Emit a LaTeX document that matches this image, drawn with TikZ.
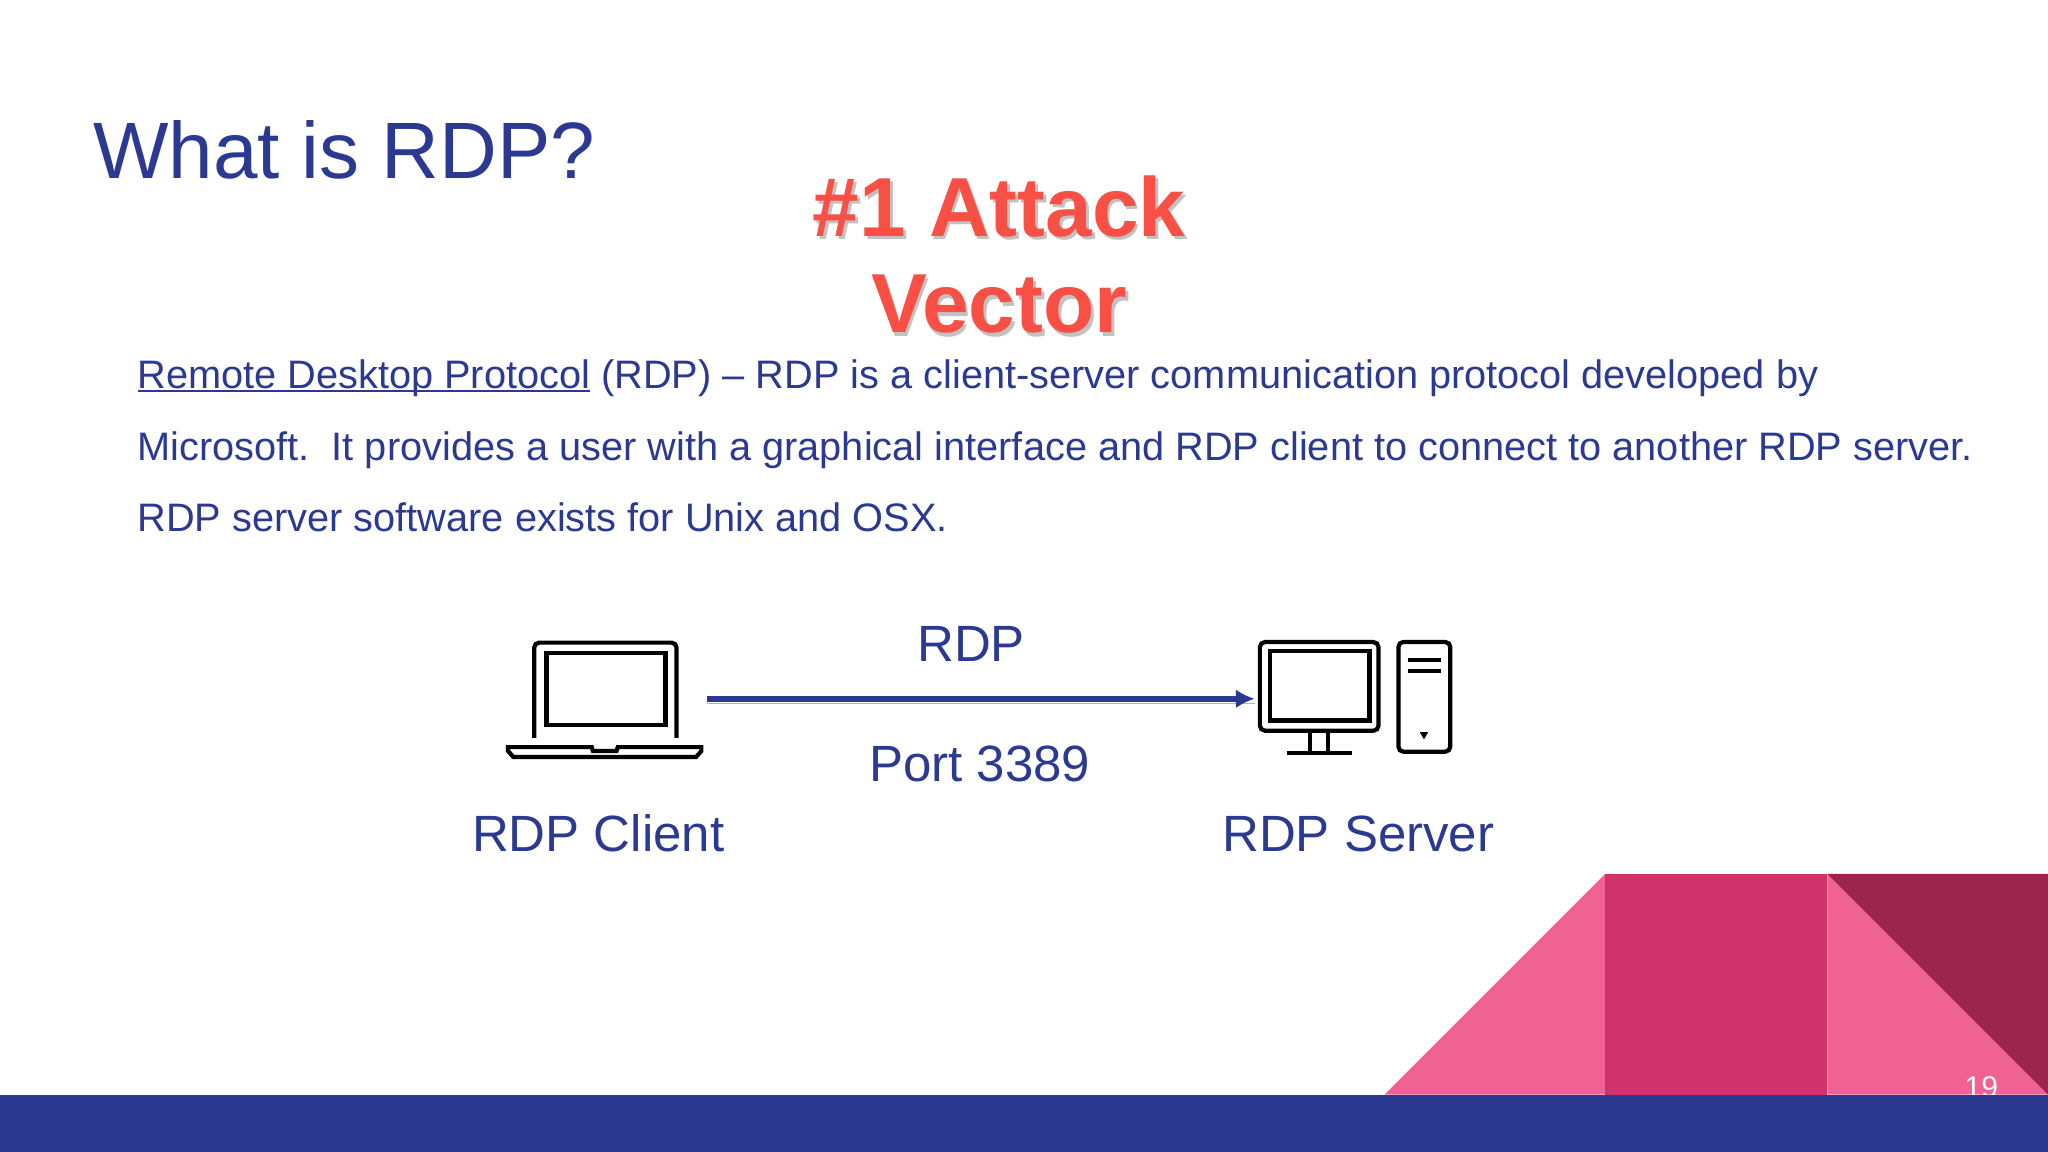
\documentclass[tikz,border=0pt]{standalone}
\usepackage{fontspec}
\setmainfont{Liberation Sans}
\usetikzlibrary{positioning, arrows.meta}
\newcommand{\linktext}[1]{\setbox0\hbox{#1}\rlap{\rule[-1.9pt]{\wd0}{0.95pt}}\box0\relax}

\begin{document}
\begin{tikzpicture}[x=0.6531pt,y=-0.6531pt,
        icon/.style={draw=black, line width=2.1pt, inner sep=0pt, rounded corners=2.5pt},
        label/.style={inner sep=0pt, text=slideblue, font=\fontsize{25.5}{30}\selectfont},
        rdparrow/.style={draw=slideblue, line width=2.8pt, -{Latex[length=9.5pt,width=9.5pt]}, shorten >=1.5pt}]
            \definecolor{slideblue}{RGB}{43, 57, 144}
            \definecolor{softpink}{RGB}{240, 98, 146}
            \definecolor{rosepink}{RGB}{208, 51, 105}
            \definecolor{darkrose}{RGB}{156, 37, 77}
            \definecolor{vectorred}{RGB}{248, 80, 68}

            \useasboundingbox (0,0) rectangle (1568,882);

            % corner shapes
            \fill[color=softpink] (1060,838) -- (1229,669) -- (1229,838) -- cycle;
            \fill[color=rosepink] (1229,669) rectangle (1399,838);
            \fill[color=softpink] (1399,669) -- (1568,838) -- (1399,838) -- cycle;
            \fill[color=darkrose] (1399,669) -- (1568,669) -- (1568,838) -- cycle;
            \node[anchor=base, inner sep=0pt, text=white, font=\fontsize{15}{16}\selectfont] (pagenum) at (1517,840) {19};
            \fill[color=slideblue] (0,838.5) rectangle (1568,882);

            \node[anchor=base west, inner sep=0pt, text=slideblue, font=\fontsize{40}{48}\selectfont] (title) at (71,137) {What is RDP?};

            \node[text=black!40, opacity=0.6, inner sep=0pt, align=center, font=\fontsize{41.9}{48.3}\selectfont\bfseries] (vectorshade) at (767,197.5) {\#1 Attack\\Vector};
            \node[text=vectorred, inner sep=0pt, align=center, font=\fontsize{41.9}{48.3}\selectfont\bfseries] (vector) at (765,195) {\#1 Attack\\Vector};

            \node[anchor=north west, inner sep=0pt, text=slideblue, align=left, font=\fontsize{19.87}{35.9}\selectfont] (intro) at (105,275) {\linktext{Remote Desktop Protocol} (RDP) -- RDP is a client-server communication protocol developed by\\Microsoft.\ \ It provides a user with a graphical interface and RDP client to connect to another RDP server.\\RDP server software exists for Unix and OSX.};

            % laptop
            \node[minimum width=98pt, inner sep=0pt] (laptopbase) at (463,575.5) {};
            \draw[black, line width=2.1pt, rounded corners=2.5pt] (409,565) -- (409,492) -- (518,492) -- (518,565);
            \node[icon, rounded corners=0pt, minimum width=61.6pt-2.1pt, minimum height=37.8pt-2.1pt] (laptopscreen) at (464,527.5) {};
            \draw[black, line width=2.1pt] (389,572) -- (453,572) -- (454,575) -- (472,575) -- (473,572) -- (537,572) -- (537,575) -- (533,579.5) -- (393,579.5) -- (389,575) -- cycle;

            % desktop
            \node[icon, minimum width=61.4pt-2.1pt, minimum height=46.4pt-2.1pt] (monitor) at (1010,525.5) {};
            \node[icon, rounded corners=0pt, minimum width=51.8pt-2.1pt, minimum height=36.8pt-2.1pt] at (1010.5,525) (monitorscreen) {};
            \draw[black, line width=2.1pt] (1003,561) -- (1003,576) (1017,561) -- (1017,576) (985,576.5) -- (1035,576.5);
            \node[icon, minimum width=28pt-2.1pt, minimum height=57pt-2.1pt] (tower) at (1090.5,533.5) {};
            \draw[black, line width=2.1pt] (1078,505) -- (1103,505) (1078,514) -- (1103,514);
            \fill[black] (1087,560.5) -- (1093.5,560.5) -- (1090.2,566) -- cycle;

            \coordinate (rdpline) at (750,535);
            \draw[rdparrow, preaction={draw=black!30, -, transform canvas={yshift=-2.4pt}}] (laptopbase.east |- rdpline) ++(3,0) -- (monitor.west |- rdpline);

            \node[label, anchor=base] (rdp) at (743.5,506.5) {RDP};
            \node[label, anchor=base] (port) at (750,598.5) {Port 3389};
            \node[label, anchor=base] (client) at (458,652) {RDP Client};
            \node[label, anchor=base] (server) at (1040,652) {RDP Server};
        \end{tikzpicture}
\end{document}
